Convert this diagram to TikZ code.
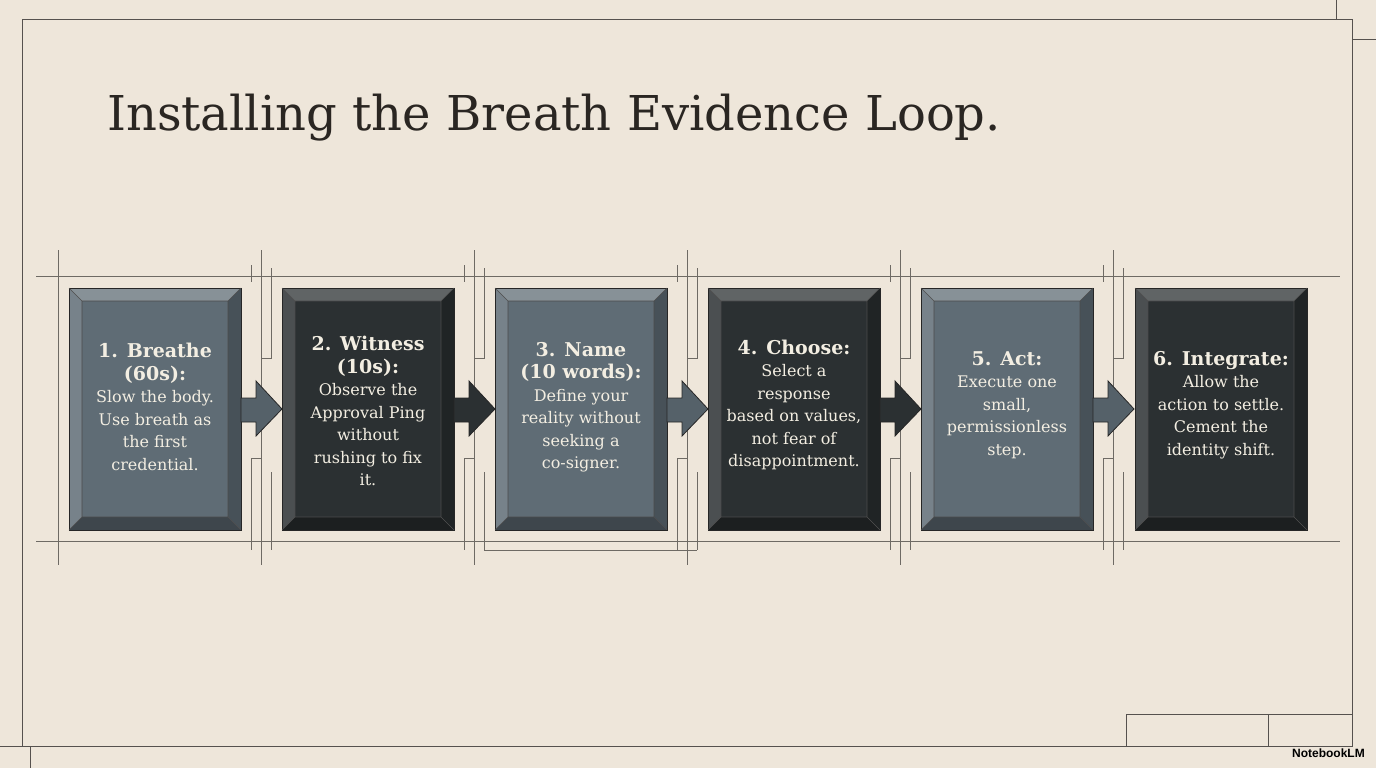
\documentclass[tikz,border=0pt]{standalone}
\usepackage{fontspec}
\setmainfont{DejaVu Serif}
\newfontfamily\logofont{Liberation Sans}
\definecolor{bg}{HTML}{EEE6DA}
\definecolor{guide}{HTML}{6E6A64}
\definecolor{lin}{HTML}{5F6C75}
\definecolor{din}{HTML}{2B3032}
\definecolor{txt}{HTML}{F3EEE2}
\definecolor{ttl}{HTML}{2A2622}
\tikzset{
  guideline/.style={draw=guide, line width=0.8pt},
  frameline/.style={draw=ttl!80, line width=1pt},
  btext/.style={text=txt, align=center, font=\fontsize{16}{22.5}\selectfont},
  arrowshape/.style={draw=black!85, line width=0.8pt},
}
\newcommand{\hd}[1]{{\bfseries\fontsize{19}{23}\selectfont #1}}
\newcommand{\bevelbox}[3]{% x, fill colour, name
  \begin{scope}[shift={(#1,288)}]
    \fill[#2!75!white] (0,0) -- (172,0) -- (159,13) -- (13,13) -- cycle;
    \fill[#2!85!white] (0,0) -- (13,13) -- (13,229) -- (0,242) -- cycle;
    \fill[#2!75!black] (172,0) -- (172,242) -- (159,229) -- (159,13) -- cycle;
    \fill[#2!65!black] (0,242) -- (172,242) -- (159,229) -- (13,229) -- cycle;
    \fill[#2] (13,13) rectangle (159,229);
    \draw[black!85, line width=0.9pt] (0,0) rectangle (172,242);
    \draw[black!70, line width=0.6pt] (13,13) rectangle (159,229) (0,0)--(13,13) (172,0)--(159,13) (0,242)--(13,229) (172,242)--(159,229);
    \coordinate (#3) at (86,121);
  \end{scope}}
\newcommand{\linkarrow}[2]{%
  \fill[#2, arrowshape] (#1,398) -- (#1+15,398) -- (#1+15,381) -- (#1+41,409) -- (#1+15,436) -- (#1+15,422) -- (#1,422) -- cycle;}
\begin{document}
\begin{tikzpicture}[x=1pt,y=-1pt]
\fill[bg] (0,0) rectangle (1376,768);
\useasboundingbox (0,0) rectangle (1376,768);
\draw[frameline] (22,20) rectangle (1352,746);
\draw[frameline] (1336,0) -- (1336,20) (1352,40) -- (1376,40) (30,746) -- (30,768) (0,746) -- (22,746);
\draw[frameline] (1126,714) rectangle (1352,746) (1268,714) -- (1268,746);
\node[anchor=base west, inner sep=0, text=ttl, font=\fontsize{48}{56}\selectfont] (title) at (107,130) {Installing the Breath Evidence Loop.};
\draw[guideline] (36,276) -- (1340,276) (36,541) -- (1340,541);
\draw[guideline] (58,250) -- (58,565);
\foreach \g in {0,1,2,3,4} {
  \pgfmathsetmacro{\gx}{261+213*\g}
  \draw[guideline] (\gx-10,265) -- (\gx-10,282) (\gx-10,458) -- (\gx-10,550);
  \draw[guideline] (\gx,250) -- (\gx,565);
  \draw[guideline] (\gx+10,268) -- (\gx+10,358) -- (\gx,358) (\gx+10,472) -- (\gx+10,550);
  \draw[guideline] (\gx-10,458) -- (\gx,458);
}
\draw[guideline] (484,550) -- (697,550) (697,472) -- (697,550);
\bevelbox{69}{lin}{b1}
\bevelbox{282}{din}{b2}
\bevelbox{495}{lin}{b3}
\bevelbox{708}{din}{b4}
\bevelbox{921}{lin}{b5}
\bevelbox{1135}{din}{b6}
\linkarrow{241}{lin!90!black}
\linkarrow{454}{din}
\linkarrow{667}{lin!90!black}
\linkarrow{880}{din}
\linkarrow{1093}{lin!90!black}
\node[btext] (t1) at (155,407) {\hd{1. Breathe}\\\hd{(60s):}\\Slow the body.\\Use breath as\\the first\\credential.};
\node[btext] (t2) at (368,411) {\hd{2. Witness}\\\hd{(10s):}\\Observe the\\Approval Ping\\without\\rushing to fix\\it.};
\node[btext] (t3) at (581,407) {\hd{3. Name}\\\hd{(10 words):}\\Define your\\reality without\\seeking a\\co-signer.};
\node[btext] (t4) at (794,405) {\hd{4. Choose:}\\Select a\\response\\based on values,\\not fear of\\disappointment.};
\node[btext] (t5) at (1007,405) {\hd{5. Act:}\\Execute one\\small,\\permissionless\\step.};
\node[btext] (t6) at (1221,405) {\hd{6. Integrate:}\\Allow the\\action to settle.\\Cement the\\identity shift.};
\node[anchor=east, inner sep=0, font=\logofont\bfseries\fontsize{12}{14}\selectfont, text=black] (logo) at (1365,753) {NotebookLM};
\end{tikzpicture}
\end{document}
